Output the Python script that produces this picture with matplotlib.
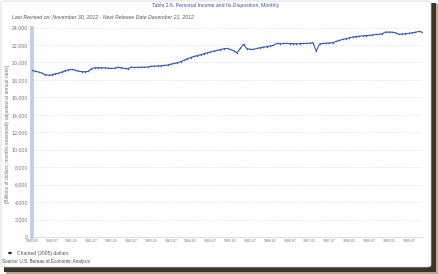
import matplotlib
matplotlib.use("Agg")
from matplotlib import pyplot as plt
from matplotlib.patches import FancyBboxPatch, Rectangle

plt.rcParams['font.family'] = ['Liberation Sans', 'DejaVu Sans']

# monthly values, 1980-01 .. 1989-11 (chained 2005 dollars)
y1980 = [19080, 18990, 18900, 18780, 18600, 18540, 18580, 18700, 18760, 18900, 19050, 19150]
y1981 = [19200, 19120, 19000, 18950, 18930, 18980, 19280, 19390, 19400, 19380, 19390, 19350]
y1982 = [19310, 19330, 19460, 19400, 19310, 19270, 19460, 19420, 19440, 19460, 19450, 19480]
y1983 = [19560, 19580, 19600, 19620, 19660, 19700, 19800, 19890, 19960, 20100, 20250, 20420]
y1984 = [20560, 20680, 20780, 20880, 21000, 21100, 21200, 21300, 21380, 21460, 21570, 21610]
y1985 = [21490, 21350, 21110, 21600, 22070, 21570, 21500, 21490, 21600, 21680, 21760, 21800]
y1986 = [21880, 21950, 22180, 22150, 22170, 22180, 22160, 22150, 22140, 22150, 22170, 22180]
y1987 = [22200, 22260, 21300, 22100, 22180, 22200, 22230, 22260, 22400, 22520, 22640, 22720]
y1988 = [22820, 22910, 22960, 23000, 23040, 23080, 23100, 23150, 23200, 23220, 23300, 23480]
y1989 = [23480, 23470, 23400, 23220, 23250, 23290, 23330, 23400, 23450, 23550, 23480]
values = y1980 + y1981 + y1982 + y1983 + y1984 + y1985 + y1986 + y1987 + y1988 + y1989
months = list(range(len(values)))

tick_labels = ["%d-%s" % (yr, mo) for yr in range(1980, 1990) for mo in ("01", "07")]
tick_pos = [i * 6 for i in range(len(tick_labels))]
y_ticks = list(range(0, 24001, 2000))

W, H = 439, 274
fig = plt.figure(figsize=(W / 100, H / 100), dpi=100)
fig.patch.set_facecolor("white")


def fx(px):
    return px / W


def fy(py):
    return 1 - py / H


def box(x0, y0, x1, y1):
    # pixel box (top-left origin) -> figure fraction (left, bottom, width, height)
    return fx(x0), fy(y1), (x1 - x0) / W, (y1 - y0) / H


# frame with shadow
l, b, w, h = box(6, 4, 439, 274)
fig.patches.append(Rectangle((l, b), w, h, transform=fig.transFigure,
                             facecolor="#b8ac8c", edgecolor="none", zorder=0))
l, b, w, h = box(4, 3, 436, 272)
fig.patches.append(Rectangle((l, b), w, h, transform=fig.transFigure,
                             facecolor="#3d3528", edgecolor="none", zorder=0))
l, b, w, h = box(1, 1, 431, 267)
fig.patches.append(FancyBboxPatch((l, b), w, h, boxstyle="round,pad=0,rounding_size=0.008",
                                  transform=fig.transFigure, facecolor="white",
                                  edgecolor="#d0d0d0", linewidth=0.5, zorder=0))

ax = fig.add_axes(box(32, 27.5, 422, 237))
ax.set_zorder(5)
ax.set_facecolor("none")
ax.plot(months, values, color="#3a5aab", linewidth=0.8, marker="o", markersize=1.1,
        markeredgewidth=0, zorder=3)

ax.set_xlim(0, 118)
ax.set_ylim(0, 24000)
ax.set_yticks(y_ticks)
ax.set_yticklabels(["{:,}".format(v) for v in y_ticks], fontsize=3.8, color="#777777")
ax.set_xticks(tick_pos)
ax.set_xticklabels(tick_labels, fontsize=2.5, color="#777777")
ax.tick_params(axis="both", length=0, pad=1.5)
ax.tick_params(axis="y", pad=3)
for v in y_ticks[1:]:
    ax.axhline(v, color="#c8c8c8", linewidth=0.5, linestyle=(0, (1, 2)), zorder=1)
for s in ("top", "right"):
    ax.spines[s].set_visible(False)
ax.spines["left"].set_color("#c0d0e6")
ax.spines["left"].set_linewidth(2.8)
ax.spines["bottom"].set_color("#d8d8d8")
ax.spines["bottom"].set_linewidth(0.6)

fig.text(fx(216), fy(6), "Table 2.6. Personal Income and Its Disposition, Monthly",
         fontsize=3.7, color="#3a559c", ha="center", va="center", zorder=6)
fig.text(fx(12), fy(17), "Last Revised on: November 30, 2012 - Next Release Date December 21, 2012",
         fontsize=3.75, color="#555555", style="italic", ha="left", va="center", zorder=6)
fig.text(fx(7.5), fy(134), "[Billions of dollars; months seasonally adjusted at annual rates]",
         fontsize=3.5, color="#777777", rotation=90, ha="center", va="center", zorder=6)
fig.patches.append(plt.Circle((fx(10), fy(253)), 0.0045, transform=fig.transFigure,
                              facecolor="#1c2a80", edgecolor="none", zorder=6))
fig.text(fx(17), fy(253), "Chained (2005) dollars", fontsize=3.6, color="#555555",
         ha="left", va="center", zorder=6)
fig.text(fx(2), fy(262), "Source: U.S. Bureau of Economic Analysis", fontsize=3.3,
         color="#444444", ha="left", va="center", zorder=6)

fig.savefig("out.png", dpi=100)
